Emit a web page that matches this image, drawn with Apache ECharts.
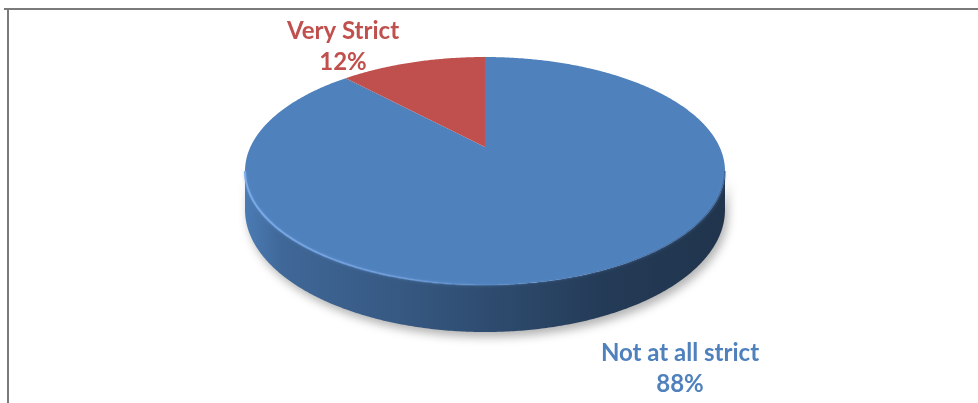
<!DOCTYPE html>
<html>
<head>
<meta charset="utf-8">
<script src="https://cdn.jsdelivr.net/npm/echarts@6/dist/echarts.min.js"></script>
<style>
  html, body { margin: 0; padding: 0; background: #ffffff; }
  #chart { width: 978px; height: 403px; }
</style>
</head>
<body>
<div id="chart"></div>
<script>
// Survey answers: how strict the rules are
const categories = ['Not at all strict', 'Very Strict'];
const shares = [88, 12];
const sliceColors = ['#4F81BD', '#C0504D'];

// Label anchor for each slice (pixel centre of the two-line label)
const labelAnchors = [[680, 369], [343, 47]];

const total = shares.reduce((a, b) => a + b, 0);
const starts = [];
shares.reduce((acc, v) => { starts.push(acc); return acc + v; }, 0);

// Tilted disc seen in perspective: angle phi runs clockwise from 12 o'clock
const disc = { cx: 485, cy: 147, A: 234.6, B: 108.95, k: -0.2106, depth: 47 };
const sideFrom = Math.acos(disc.k);            // left/right silhouette of the rim
const sideTo = 2 * Math.PI - sideFrom;

function project(phi, drop) {
  const u = Math.sin(phi), v = -Math.cos(phi);
  const w = 1 + disc.k * v;
  return [
    disc.cx + disc.A * u / w,
    disc.cy + disc.B * v / w + (drop ? disc.depth * (1 + disc.k) / w : 0)
  ];
}

function arc(a, b, drop) {
  const n = Math.max(2, Math.ceil((b - a) / (Math.PI / 360)));
  const pts = [];
  for (let j = 0; j <= n; j++) pts.push(project(a + (b - a) * j / n, drop));
  return pts;
}

// scale a hex colour's channels to darken it
function shade(hex, f) {
  const n = parseInt(hex.slice(1), 16);
  const r = Math.round(((n >> 16) & 255) * f);
  const g = Math.round(((n >> 8) & 255) * f);
  const b = Math.round((n & 255) * f);
  return 'rgb(' + r + ',' + g + ',' + b + ')';
}

function renderSlice(params, api) {
  const i = params.dataIndex;
  const val = api.value(0);
  const a0 = starts[i] / total * 2 * Math.PI;
  const a1 = a0 + val / total * 2 * Math.PI;
  const color = sliceColors[i];
  const children = [];

  // outer wall, only where it faces the viewer
  const lo = Math.max(a0, sideFrom), hi = Math.min(a1, sideTo);
  if (hi > lo) {
    const wall = arc(lo, hi, false).concat(arc(lo, hi, true).reverse());
    children.push({
      type: 'polygon',
      z2: 1,
      shape: { points: wall },
      style: {
        fill: new echarts.graphic.LinearGradient(0, 0, 1, 0, [
          { offset: 0, color: shade(color, 0.95) },
          { offset: 0.08, color: shade(color, 0.8) },
          { offset: 0.3, color: shade(color, 0.7) },
          { offset: 0.75, color: shade(color, 0.46) },
          { offset: 1, color: shade(color, 0.4) }
        ]),
        shadowBlur: 10,
        shadowOffsetX: 3,
        shadowOffsetY: 5,
        shadowColor: 'rgba(0,0,0,0.3)'
      }
    });
    // soft bevel along the front edge of the top face
    children.push({
      type: 'polyline',
      z2: 3,
      shape: { points: arc(lo, hi, false) },
      style: {
        fill: null,
        lineWidth: 2,
        shadowBlur: 3,
        shadowColor: 'rgba(110,160,225,0.6)',
        stroke: new echarts.graphic.LinearGradient(0, 0, 1, 0, [
          { offset: 0, color: 'rgba(125,172,232,0.95)' },
          { offset: 0.35, color: 'rgba(115,162,225,0.6)' },
          { offset: 0.6, color: 'rgba(79,129,189,0.2)' },
          { offset: 1, color: 'rgba(40,65,100,0.45)' }
        ])
      }
    });
  }

  // top face
  children.push({
    type: 'polygon',
    z2: 2,
    shape: { points: [[disc.cx, disc.cy]].concat(arc(a0, a1, false)) },
    style: { fill: color }
  });

  // data label
  const pct = Math.round(val / total * 100);
  children.push({
    type: 'text',
    z2: 5,
    x: labelAnchors[i][0],
    y: labelAnchors[i][1],
    style: {
      text: categories[i] + '\n' + pct + '%',
      fill: color,
      fontFamily: 'Lato',
      fontWeight: 'bold',
      fontSize: 24,
      lineHeight: 31,
      align: 'center',
      verticalAlign: 'middle'
    }
  });

  return { type: 'group', children: children };
}

const chart = echarts.init(document.getElementById('chart'));
chart.setOption({
  animation: false,
  backgroundColor: '#ffffff',
  graphic: [
    { type: 'line', shape: { x1: 4, y1: 9, x2: 978, y2: 9 },
      style: { stroke: '#7a7a7a', lineWidth: 2 } },
    { type: 'line', shape: { x1: 8, y1: 9, x2: 8, y2: 403 },
      style: { stroke: '#7a7a7a', lineWidth: 2 } }
  ],
  series: [{
    type: 'custom',
    coordinateSystem: 'none',
    renderItem: renderSlice,
    data: shares.map((v, i) => ({ name: categories[i], value: [v] }))
  }]
});
</script>
</body>
</html>
